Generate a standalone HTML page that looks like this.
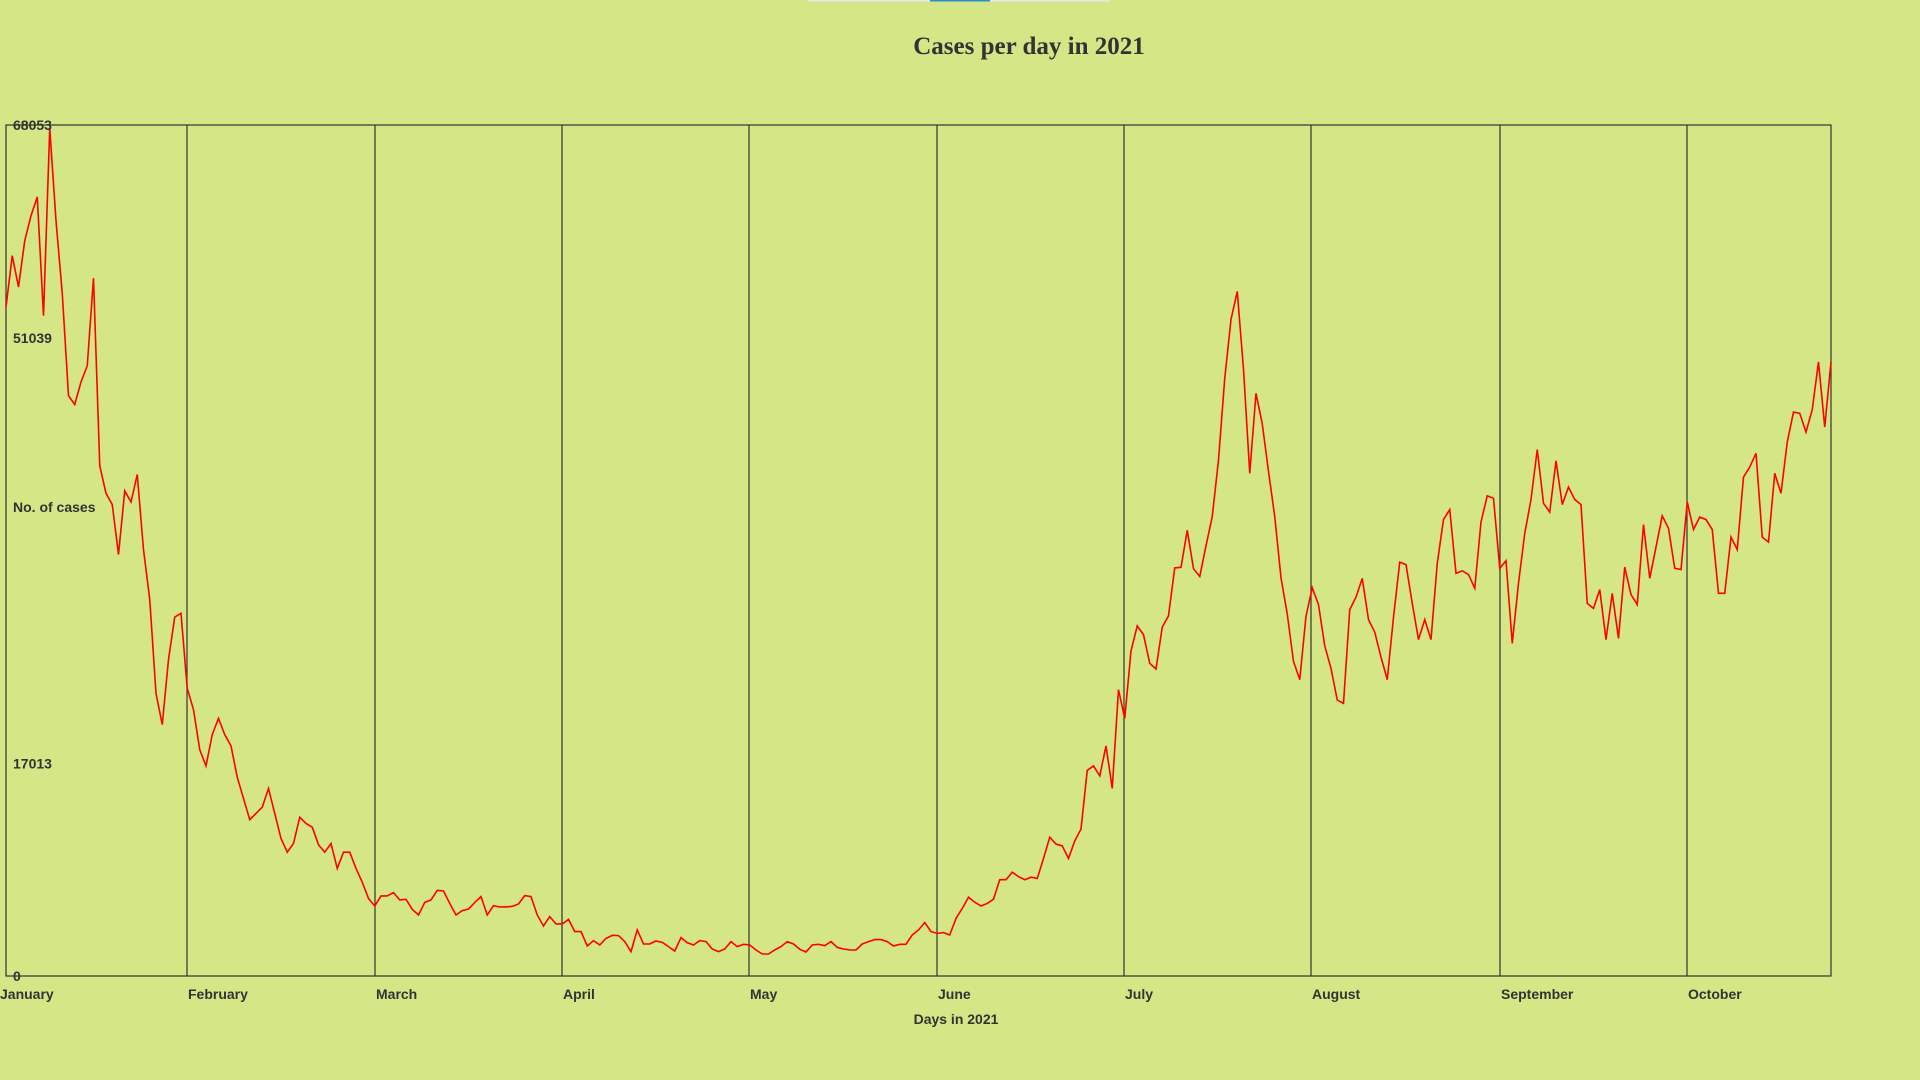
<!DOCTYPE html>
<html><head><meta charset="utf-8">
<style>
html,body{margin:0;padding:0;background:#d4e686;}
body{width:1920px;height:1080px;overflow:hidden;position:relative;font-family:"Liberation Sans",Arial,sans-serif;}
svg{position:absolute;left:0;top:0;}
</style></head>
<body>
<svg id="chart" width="1920" height="1080" viewBox="0 0 1920 1080">
  <rect x="0" y="0" width="1920" height="1080" fill="#d4e686"/>
  <line x1="808" y1="0.5" x2="1110" y2="0.5" stroke="#e6e6e6" stroke-width="2"/>
  <line x1="930" y1="0.5" x2="990" y2="0.5" stroke="#2a8fd0" stroke-width="2"/>
  <text x="1029" y="54" text-anchor="middle" font-family="Liberation Serif, serif" font-weight="bold" font-size="25" fill="#333">Cases per day in 2021</text>
  <g id="grid"></g>
  <g id="series"></g>
  <g id="labels"></g>
</svg>
<script>
const months = ["January","February","March","April","May","June","July","August","September","October"];
const yTicks = [0, 17013, 51039, 68053];
const yMax = 68053;
const cases = [
53500,57600,55100,58800,60800,62300,52800,67800,60400,54600,
46400,45700,47500,48800,55800,40800,38600,37700,33700,38800,
37900,40100,34100,30100,22600,20100,25300,28700,29000,23000,
21300,18100,16800,19300,20600,19300,18400,15900,14200,12500,
13000,13500,15000,13000,11000,9900,10600,12700,12200,11900,
10500,9900,10600,8600,9900,9900,8600,7500,6200,5600,
6400,6400,6670,6080,6130,5330,4880,5890,6080,6850,
6800,5810,4880,5230,5360,5870,6350,4880,5630,5520,
5520,5570,5760,6430,6350,4880,4000,4750,4160,4160,
4530,3550,3550,2400,2830,2480,3010,3250,3230,2750,
1950,3680,2560,2560,2800,2690,2350,2000,3070,2670,
2480,2830,2750,2160,1950,2160,2750,2350,2530,2480,
2080,1760,1760,2080,2350,2750,2560,2130,1920,2480,
2530,2430,2750,2290,2160,2080,2080,2560,2750,2910,
2910,2750,2400,2530,2530,3280,3680,4270,3550,3410,
3470,3280,4610,5400,6300,5900,5600,5800,6140,7700,
7700,8300,7950,7700,7900,7800,9400,11100,10550,10400,
9400,10800,11750,16450,16800,16000,18400,15000,22900,20600,
26000,28000,27300,25000,24550,27900,28800,32640,32680,35650,
32570,31950,34400,36740,41260,47790,52500,54740,48510,40200,
46600,44160,40360,36740,31850,28950,25150,23700,28770,31050,
29700,26400,24600,22070,21800,29300,30300,31800,28500,27500,
25500,23700,28700,33100,32900,29800,26900,28500,26900,33000,
36500,37300,32200,32400,32100,31000,36300,38400,38200,32600,
33200,26600,31400,35400,38100,42100,37800,37100,41200,37700,
39100,38100,37700,29800,29400,30900,26900,30600,27000,32700,
30500,29700,36100,31800,34300,36800,35800,32600,32500,37900,
35700,36700,36500,35700,30600,30600,35100,34100,39900,40700,
41800,35100,34700,40200,38600,42700,45100,45000,43500,45300,
49100,43900,49100
];

const L = 6, R = 1831, T = 125, B = 976;
const monthX = [6,187,375,562,749,937,1124,1311,1500,1687];
function xDay(i){ return L + (R - L) * i / (cases.length - 1); }
function yVal(v){ return B - (B - T) * v / yMax; }

const NS = "http://www.w3.org/2000/svg";
const grid = document.getElementById('grid');
const labels = document.getElementById('labels');
const series = document.getElementById('series');

const frame = document.createElementNS(NS,'rect');
frame.setAttribute('x', L); frame.setAttribute('y', T);
frame.setAttribute('width', R-L); frame.setAttribute('height', B-T);
frame.setAttribute('fill','none'); frame.setAttribute('stroke','#333'); frame.setAttribute('stroke-width','1.2');


grid.appendChild(frame);

months.forEach((m, i) => {
  const x = monthX[i];
  if (i > 0) {
    const ln = document.createElementNS(NS,'line');
    ln.setAttribute('x1', x); ln.setAttribute('x2', x);
    ln.setAttribute('y1', T); ln.setAttribute('y2', B);
    ln.setAttribute('stroke','#333'); ln.setAttribute('stroke-width','1.2');
    
    
    grid.appendChild(ln);
  }
  const t = document.createElementNS(NS,'text');
  t.setAttribute('x', i === 0 ? 0 : x + 1);
  t.setAttribute('y', 999);
  t.setAttribute('font-size','14'); t.setAttribute('font-weight','bold'); t.setAttribute('fill','#333');
  t.textContent = m;
  
  
  labels.appendChild(t);
});

yTicks.forEach(v => {
  const t = document.createElementNS(NS,'text');
  t.setAttribute('x', 13);
  t.setAttribute('y', yVal(v) + 5);
  t.setAttribute('font-size','14'); t.setAttribute('font-weight','bold'); t.setAttribute('fill','#333');
  t.textContent = String(v);
  
  
  labels.appendChild(t);
});

const yt = document.createElementNS(NS,'text');
yt.setAttribute('x', 13); yt.setAttribute('y', 512);
yt.setAttribute('font-size','14'); yt.setAttribute('font-weight','bold'); yt.setAttribute('fill','#333');
yt.textContent = 'No. of cases';


labels.appendChild(yt);

const xt = document.createElementNS(NS,'text');
xt.setAttribute('x', 956); xt.setAttribute('y', 1024); xt.setAttribute('text-anchor','middle');
xt.setAttribute('font-size','14'); xt.setAttribute('font-weight','bold'); xt.setAttribute('fill','#333');
xt.textContent = 'Days in 2021';


labels.appendChild(xt);

const pts = cases.map((v,i) => xDay(i).toFixed(2) + ',' + yVal(v).toFixed(2)).join(' ');
const pl = document.createElementNS(NS,'polyline');
pl.setAttribute('points', pts);
pl.setAttribute('fill','none'); pl.setAttribute('stroke','#ff0000'); pl.setAttribute('stroke-width','1.6');
pl.setAttribute('stroke-linejoin','miter');


series.appendChild(pl);
</script>
</body></html>
